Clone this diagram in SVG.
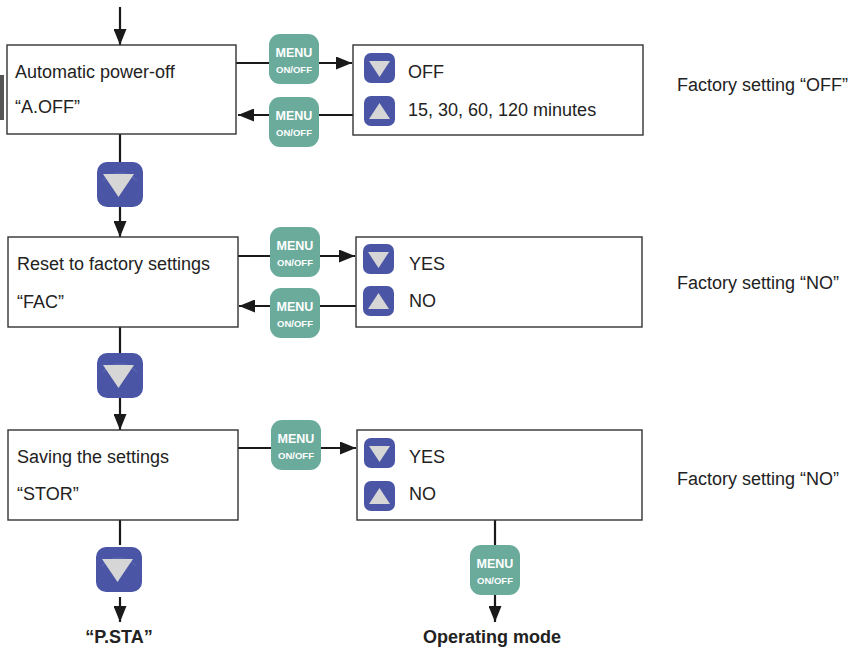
<svg xmlns="http://www.w3.org/2000/svg" width="853" height="650" viewBox="0 0 853 650">
<defs>
<marker id="ah" viewBox="0 0 16 13" refX="16" refY="6.5" markerWidth="16" markerHeight="13" markerUnits="userSpaceOnUse" orient="auto">
<path d="M0,0 L16,6.5 L0,13 Z" fill="#1a1a1a"/>
</marker>
<g id="menuBtn">
<rect x="0" y="0" width="50" height="50" rx="11" fill="#6aab9c"/>
<text x="25" y="23" class="m1">MENU</text>
<text x="25" y="39" class="m2">ON/OFF</text>
</g>
<g id="bigDown">
<rect x="0" y="0" width="46" height="45" rx="10" fill="#4a55a6"/>
<path d="M6,19 A22,22 0 0 1 40,19" fill="none" stroke="#5864b0" stroke-width="1.5"/>
<path d="M6,12 L37,12 L21.5,35 Z" fill="#d6d6d6"/>
</g>
<g id="smDown">
<rect x="0" y="0" width="31" height="30" rx="7" fill="#4a55a6"/>
<path d="M5,8 L26,8 L15.5,24 Z" fill="#d6d6d6"/>
</g>
<g id="smUp">
<rect x="0" y="0" width="31" height="30" rx="7" fill="#4a55a6"/>
<path d="M5,23 L26,23 L15.5,7 Z" fill="#d6d6d6"/>
</g>
</defs>
<style>
.box{fill:#ffffff;stroke:#333333;stroke-width:1.4}
.t{font-family:"Liberation Sans",Arial,sans-serif;font-size:18px;fill:#222222}
.b{font-family:"Liberation Sans",Arial,sans-serif;font-size:18px;font-weight:bold;fill:#222222;text-anchor:middle}
.m1{font-family:"Liberation Sans",Arial,sans-serif;font-size:12.5px;font-weight:bold;fill:#ffffff;text-anchor:middle}
.m2{font-family:"Liberation Sans",Arial,sans-serif;font-size:9.5px;font-weight:bold;fill:#ffffff;text-anchor:middle}
.c{fill:none;stroke:#1a1a1a;stroke-width:2.2}
</style>
<rect x="0" y="75" width="4" height="45" fill="#555555"/>
<g id="connectors">
<line class="c" x1="120" y1="7" x2="120" y2="45" marker-end="url(#ah)"/>
<line class="c" x1="120" y1="134" x2="120" y2="162"/>
<line class="c" x1="120" y1="207" x2="120" y2="237" marker-end="url(#ah)"/>
<line class="c" x1="120" y1="327" x2="120" y2="353"/>
<line class="c" x1="120" y1="398" x2="120" y2="430" marker-end="url(#ah)"/>
<line class="c" x1="120" y1="520" x2="120" y2="545"/>
<line class="c" x1="120" y1="597" x2="120" y2="622" marker-end="url(#ah)"/>
<line class="c" x1="236" y1="63" x2="352" y2="63" marker-end="url(#ah)"/>
<line class="c" x1="353" y1="115" x2="238" y2="115" marker-end="url(#ah)"/>
<line class="c" x1="238" y1="256" x2="355" y2="256" marker-end="url(#ah)"/>
<line class="c" x1="356" y1="306" x2="239" y2="306" marker-end="url(#ah)"/>
<line class="c" x1="238" y1="448" x2="356" y2="448" marker-end="url(#ah)"/>
<line class="c" x1="495" y1="520" x2="495" y2="545"/>
<line class="c" x1="495" y1="595" x2="495" y2="622" marker-end="url(#ah)"/>
</g>
<g id="node-aoff">
<rect class="box" x="7" y="45" width="229" height="89"/>
<text class="t" x="15" y="78">Automatic power-off</text>
<text class="t" x="15" y="113">“A.OFF”</text>
</g>
<g id="node-aoff-opts">
<rect class="box" x="353" y="45" width="290" height="90"/>
<use href="#smDown" x="364" y="53"/>
<use href="#smUp" x="364" y="96"/>
<text class="t" x="408" y="78">OFF</text>
<text class="t" x="408" y="116">15, 30, 60, 120 minutes</text>
</g>
<g id="node-fac">
<rect class="box" x="8" y="237" width="230" height="90"/>
<text class="t" x="17" y="270">Reset to factory settings</text>
<text class="t" x="17" y="308">“FAC”</text>
</g>
<g id="node-fac-opts">
<rect class="box" x="356" y="237" width="286" height="90"/>
<use href="#smDown" x="363" y="244"/>
<use href="#smUp" x="363" y="286"/>
<text class="t" x="409" y="270">YES</text>
<text class="t" x="409" y="307">NO</text>
</g>
<g id="node-stor">
<rect class="box" x="8" y="430" width="230" height="90"/>
<text class="t" x="17" y="463">Saving the settings</text>
<text class="t" x="17" y="500">“STOR”</text>
</g>
<g id="node-stor-opts">
<rect class="box" x="357" y="430" width="285" height="90"/>
<use href="#smDown" x="364" y="438"/>
<use href="#smUp" x="364" y="481"/>
<text class="t" x="409" y="463">YES</text>
<text class="t" x="409" y="500">NO</text>
</g>
<g id="menu-buttons">
<use href="#menuBtn" x="269" y="34"/>
<use href="#menuBtn" x="269" y="97"/>
<use href="#menuBtn" x="270" y="227"/>
<use href="#menuBtn" x="270" y="288"/>
<use href="#menuBtn" x="271" y="420"/>
<use href="#menuBtn" x="470" y="545"/>
</g>
<g id="down-buttons">
<use href="#bigDown" x="97" y="162"/>
<use href="#bigDown" x="97" y="353"/>
<use href="#bigDown" x="96" y="547"/>
</g>
<g id="notes">
<text class="t" x="677" y="91">Factory setting “OFF”</text>
<text class="t" x="677" y="289">Factory setting “NO”</text>
<text class="t" x="677" y="485">Factory setting “NO”</text>
</g>
<g id="endpoints">
<text class="b" x="119" y="643">“P.STA”</text>
<text class="b" x="492" y="643">Operating mode</text>
</g>
</svg>
